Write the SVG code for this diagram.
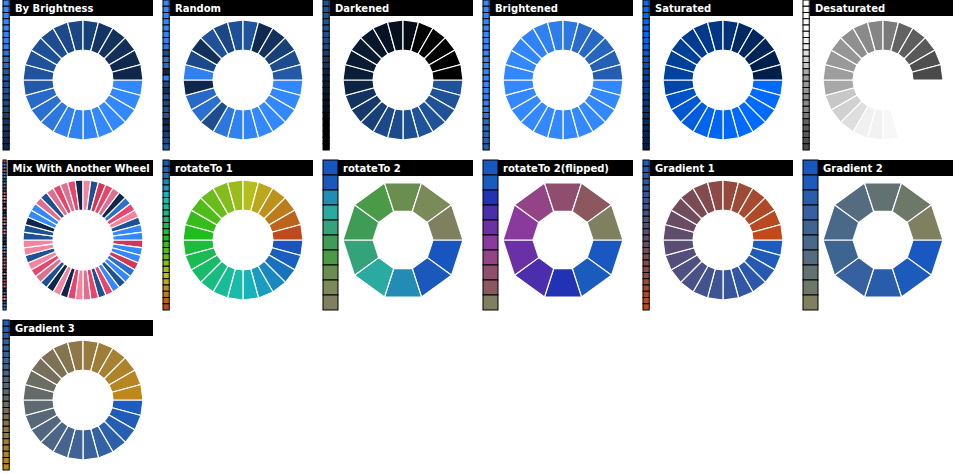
<svg xmlns="http://www.w3.org/2000/svg" width="966" height="474" viewBox="0 0 966 474">
<style>
.st rect{stroke:#000;stroke-width:1}
.wh use{stroke:#fff;stroke-width:1.2;stroke-linejoin:miter}
.tb{fill:#000}
.tt{font-family:"DejaVu Sans",Verdana,sans-serif;font-weight:bold;font-size:10px;fill:#fff}
</style>
<defs>
<path id="a" d="M60,0L57.96,15.53L28.98,7.76L30,0Z"/>
<path id="b" d="M60,0L48.54,35.27L24.27,17.63L30,0Z"/>
<path id="c" d="M60,0L59.49,7.83L29.74,3.92L30,0Z"/>
</defs>
<rect width="966" height="474" fill="#fff"/>

<g id="p-by-brightness" transform="translate(0,0)">
<g class="st">
<rect x="3" y="0" width="6.25" height="6.25" fill="#3388FF"/><rect x="3" y="6.25" width="6.25" height="6.25" fill="#3388FF"/><rect x="3" y="12.5" width="6.25" height="6.25" fill="#3388FF"/><rect x="3" y="18.75" width="6.25" height="6.25" fill="#3388FF"/><rect x="3" y="25" width="6.25" height="6.25" fill="#3388FF"/><rect x="3" y="31.25" width="6.25" height="6.25" fill="#3184F7"/><rect x="3" y="37.5" width="6.25" height="6.25" fill="#3081F2"/><rect x="3" y="43.75" width="6.25" height="6.25" fill="#3080F0"/><rect x="3" y="50" width="6.25" height="6.25" fill="#2C76DE"/><rect x="3" y="56.25" width="6.25" height="6.25" fill="#2A70D1"/><rect x="3" y="62.5" width="6.25" height="6.25" fill="#286AC7"/><rect x="3" y="68.75" width="6.25" height="6.25" fill="#225AA8"/><rect x="3" y="75" width="6.25" height="6.25" fill="#20549E"/><rect x="3" y="81.25" width="6.25" height="6.25" fill="#1F5299"/><rect x="3" y="87.5" width="6.25" height="6.25" fill="#1E5096"/><rect x="3" y="93.75" width="6.25" height="6.25" fill="#1D4C8F"/><rect x="3" y="100" width="6.25" height="6.25" fill="#1C498A"/><rect x="3" y="106.25" width="6.25" height="6.25" fill="#1B4785"/><rect x="3" y="112.5" width="6.25" height="6.25" fill="#18417A"/><rect x="3" y="118.75" width="6.25" height="6.25" fill="#143563"/><rect x="3" y="125" width="6.25" height="6.25" fill="#13325E"/><rect x="3" y="131.25" width="6.25" height="6.25" fill="#123059"/><rect x="3" y="137.5" width="6.25" height="6.25" fill="#102A4F"/><rect x="3" y="143.75" width="6.25" height="6.25" fill="#0F274A"/>
</g>
<rect class="tb" x="10" y="0" width="143" height="16"/>
<text class="tt" x="15" y="12">By Brightness</text>
<g class="wh" transform="translate(83,80)">
<use href="#a" fill="#3388FF"/><use href="#a" transform="rotate(15)" fill="#3388FF"/><use href="#a" transform="rotate(30)" fill="#3388FF"/><use href="#a" transform="rotate(45)" fill="#3388FF"/><use href="#a" transform="rotate(60)" fill="#3388FF"/><use href="#a" transform="rotate(75)" fill="#3184F7"/><use href="#a" transform="rotate(90)" fill="#3081F2"/><use href="#a" transform="rotate(105)" fill="#3080F0"/><use href="#a" transform="rotate(120)" fill="#2C76DE"/><use href="#a" transform="rotate(135)" fill="#2A70D1"/><use href="#a" transform="rotate(150)" fill="#286AC7"/><use href="#a" transform="rotate(165)" fill="#225AA8"/><use href="#a" transform="rotate(180)" fill="#20549E"/><use href="#a" transform="rotate(195)" fill="#1F5299"/><use href="#a" transform="rotate(210)" fill="#1E5096"/><use href="#a" transform="rotate(225)" fill="#1D4C8F"/><use href="#a" transform="rotate(240)" fill="#1C498A"/><use href="#a" transform="rotate(255)" fill="#1B4785"/><use href="#a" transform="rotate(270)" fill="#18417A"/><use href="#a" transform="rotate(285)" fill="#143563"/><use href="#a" transform="rotate(300)" fill="#13325E"/><use href="#a" transform="rotate(315)" fill="#123059"/><use href="#a" transform="rotate(330)" fill="#102A4F"/><use href="#a" transform="rotate(345)" fill="#0F274A"/>
</g>
</g>

<g id="p-random" transform="translate(160,0)">
<g class="st">
<rect x="3" y="0" width="6.25" height="6.25" fill="#3388FF"/><rect x="3" y="6.25" width="6.25" height="6.25" fill="#3388FF"/><rect x="3" y="12.5" width="6.25" height="6.25" fill="#3388FF"/><rect x="3" y="18.75" width="6.25" height="6.25" fill="#3388FF"/><rect x="3" y="25" width="6.25" height="6.25" fill="#3388FF"/><rect x="3" y="31.25" width="6.25" height="6.25" fill="#3184F7"/><rect x="3" y="37.5" width="6.25" height="6.25" fill="#3081F2"/><rect x="3" y="43.75" width="6.25" height="6.25" fill="#2C76DE"/><rect x="3" y="50" width="6.25" height="6.25" fill="#1D4C8F"/><rect x="3" y="56.25" width="6.25" height="6.25" fill="#2A70D1"/><rect x="3" y="62.5" width="6.25" height="6.25" fill="#286AC7"/><rect x="3" y="68.75" width="6.25" height="6.25" fill="#0F274A"/><rect x="3" y="75" width="6.25" height="6.25" fill="#3080F0"/><rect x="3" y="81.25" width="6.25" height="6.25" fill="#1C498A"/><rect x="3" y="87.5" width="6.25" height="6.25" fill="#123059"/><rect x="3" y="93.75" width="6.25" height="6.25" fill="#1F5299"/><rect x="3" y="100" width="6.25" height="6.25" fill="#1B4785"/><rect x="3" y="106.25" width="6.25" height="6.25" fill="#1E5096"/><rect x="3" y="112.5" width="6.25" height="6.25" fill="#20549E"/><rect x="3" y="118.75" width="6.25" height="6.25" fill="#102A4F"/><rect x="3" y="125" width="6.25" height="6.25" fill="#13325E"/><rect x="3" y="131.25" width="6.25" height="6.25" fill="#18417A"/><rect x="3" y="137.5" width="6.25" height="6.25" fill="#1D4C8F"/><rect x="3" y="143.75" width="6.25" height="6.25" fill="#225AA8"/>
</g>
<rect class="tb" x="10" y="0" width="143" height="16"/>
<text class="tt" x="15" y="12">Random</text>
<g class="wh" transform="translate(83,80)">
<use href="#a" fill="#3388FF"/><use href="#a" transform="rotate(15)" fill="#3388FF"/><use href="#a" transform="rotate(30)" fill="#3388FF"/><use href="#a" transform="rotate(45)" fill="#3388FF"/><use href="#a" transform="rotate(60)" fill="#3388FF"/><use href="#a" transform="rotate(75)" fill="#3184F7"/><use href="#a" transform="rotate(90)" fill="#3081F2"/><use href="#a" transform="rotate(105)" fill="#2C76DE"/><use href="#a" transform="rotate(120)" fill="#1D4C8F"/><use href="#a" transform="rotate(135)" fill="#2A70D1"/><use href="#a" transform="rotate(150)" fill="#286AC7"/><use href="#a" transform="rotate(165)" fill="#0F274A"/><use href="#a" transform="rotate(180)" fill="#3080F0"/><use href="#a" transform="rotate(195)" fill="#1C498A"/><use href="#a" transform="rotate(210)" fill="#123059"/><use href="#a" transform="rotate(225)" fill="#1F5299"/><use href="#a" transform="rotate(240)" fill="#1B4785"/><use href="#a" transform="rotate(255)" fill="#1E5096"/><use href="#a" transform="rotate(270)" fill="#20549E"/><use href="#a" transform="rotate(285)" fill="#102A4F"/><use href="#a" transform="rotate(300)" fill="#13325E"/><use href="#a" transform="rotate(315)" fill="#18417A"/><use href="#a" transform="rotate(330)" fill="#1D4C8F"/><use href="#a" transform="rotate(345)" fill="#225AA8"/>
</g>
</g>

<g id="p-darkened" transform="translate(320,0)">
<g class="st">
<rect x="3" y="0" width="6.25" height="6.25" fill="#1F5299"/><rect x="3" y="6.25" width="6.25" height="6.25" fill="#1F5299"/><rect x="3" y="12.5" width="6.25" height="6.25" fill="#1F5299"/><rect x="3" y="18.75" width="6.25" height="6.25" fill="#1F5299"/><rect x="3" y="25" width="6.25" height="6.25" fill="#1F5299"/><rect x="3" y="31.25" width="6.25" height="6.25" fill="#1D4E91"/><rect x="3" y="37.5" width="6.25" height="6.25" fill="#1C4B8C"/><rect x="3" y="43.75" width="6.25" height="6.25" fill="#1C498A"/><rect x="3" y="50" width="6.25" height="6.25" fill="#184078"/><rect x="3" y="56.25" width="6.25" height="6.25" fill="#15396B"/><rect x="3" y="62.5" width="6.25" height="6.25" fill="#133461"/><rect x="3" y="68.75" width="6.25" height="6.25" fill="#0D2342"/><rect x="3" y="75" width="6.25" height="6.25" fill="#0B1E38"/><rect x="3" y="81.25" width="6.25" height="6.25" fill="#0A1B33"/><rect x="3" y="87.5" width="6.25" height="6.25" fill="#0A1A30"/><rect x="3" y="93.75" width="6.25" height="6.25" fill="#081629"/><rect x="3" y="100" width="6.25" height="6.25" fill="#071324"/><rect x="3" y="106.25" width="6.25" height="6.25" fill="#06101F"/><rect x="3" y="112.5" width="6.25" height="6.25" fill="#040B14"/><rect x="3" y="118.75" width="6.25" height="6.25" fill="#000"/><rect x="3" y="125" width="6.25" height="6.25" fill="#000"/><rect x="3" y="131.25" width="6.25" height="6.25" fill="#000"/><rect x="3" y="137.5" width="6.25" height="6.25" fill="#000"/><rect x="3" y="143.75" width="6.25" height="6.25" fill="#000"/>
</g>
<rect class="tb" x="10" y="0" width="143" height="16"/>
<text class="tt" x="15" y="12">Darkened</text>
<g class="wh" transform="translate(83,80)">
<use href="#a" fill="#1F5299"/><use href="#a" transform="rotate(15)" fill="#1F5299"/><use href="#a" transform="rotate(30)" fill="#1F5299"/><use href="#a" transform="rotate(45)" fill="#1F5299"/><use href="#a" transform="rotate(60)" fill="#1F5299"/><use href="#a" transform="rotate(75)" fill="#1D4E91"/><use href="#a" transform="rotate(90)" fill="#1C4B8C"/><use href="#a" transform="rotate(105)" fill="#1C498A"/><use href="#a" transform="rotate(120)" fill="#184078"/><use href="#a" transform="rotate(135)" fill="#15396B"/><use href="#a" transform="rotate(150)" fill="#133461"/><use href="#a" transform="rotate(165)" fill="#0D2342"/><use href="#a" transform="rotate(180)" fill="#0B1E38"/><use href="#a" transform="rotate(195)" fill="#0A1B33"/><use href="#a" transform="rotate(210)" fill="#0A1A30"/><use href="#a" transform="rotate(225)" fill="#081629"/><use href="#a" transform="rotate(240)" fill="#071324"/><use href="#a" transform="rotate(255)" fill="#06101F"/><use href="#a" transform="rotate(270)" fill="#040B14"/><use href="#a" transform="rotate(285)" fill="#000"/><use href="#a" transform="rotate(300)" fill="#000"/><use href="#a" transform="rotate(315)" fill="#000"/><use href="#a" transform="rotate(330)" fill="#000"/><use href="#a" transform="rotate(345)" fill="#000"/>
</g>
</g>

<g id="p-brightened" transform="translate(480,0)">
<g class="st">
<rect x="3" y="0" width="6.25" height="6.25" fill="#3388FF"/><rect x="3" y="6.25" width="6.25" height="6.25" fill="#3388FF"/><rect x="3" y="12.5" width="6.25" height="6.25" fill="#3388FF"/><rect x="3" y="18.75" width="6.25" height="6.25" fill="#3388FF"/><rect x="3" y="25" width="6.25" height="6.25" fill="#3388FF"/><rect x="3" y="31.25" width="6.25" height="6.25" fill="#3388FF"/><rect x="3" y="37.5" width="6.25" height="6.25" fill="#3388FF"/><rect x="3" y="43.75" width="6.25" height="6.25" fill="#3388FF"/><rect x="3" y="50" width="6.25" height="6.25" fill="#3388FF"/><rect x="3" y="56.25" width="6.25" height="6.25" fill="#3388FF"/><rect x="3" y="62.5" width="6.25" height="6.25" fill="#3388FF"/><rect x="3" y="68.75" width="6.25" height="6.25" fill="#3388FF"/><rect x="3" y="75" width="6.25" height="6.25" fill="#3388FF"/><rect x="3" y="81.25" width="6.25" height="6.25" fill="#3388FF"/><rect x="3" y="87.5" width="6.25" height="6.25" fill="#3286FC"/><rect x="3" y="93.75" width="6.25" height="6.25" fill="#3183F5"/><rect x="3" y="100" width="6.25" height="6.25" fill="#3080F0"/><rect x="3" y="106.25" width="6.25" height="6.25" fill="#2F7DEB"/><rect x="3" y="112.5" width="6.25" height="6.25" fill="#2D78E0"/><rect x="3" y="118.75" width="6.25" height="6.25" fill="#286BC9"/><rect x="3" y="125" width="6.25" height="6.25" fill="#2769C4"/><rect x="3" y="131.25" width="6.25" height="6.25" fill="#2666BF"/><rect x="3" y="137.5" width="6.25" height="6.25" fill="#2461B5"/><rect x="3" y="143.75" width="6.25" height="6.25" fill="#235EB0"/>
</g>
<rect class="tb" x="10" y="0" width="143" height="16"/>
<text class="tt" x="15" y="12">Brightened</text>
<g class="wh" transform="translate(83,80)">
<use href="#a" fill="#3388FF"/><use href="#a" transform="rotate(15)" fill="#3388FF"/><use href="#a" transform="rotate(30)" fill="#3388FF"/><use href="#a" transform="rotate(45)" fill="#3388FF"/><use href="#a" transform="rotate(60)" fill="#3388FF"/><use href="#a" transform="rotate(75)" fill="#3388FF"/><use href="#a" transform="rotate(90)" fill="#3388FF"/><use href="#a" transform="rotate(105)" fill="#3388FF"/><use href="#a" transform="rotate(120)" fill="#3388FF"/><use href="#a" transform="rotate(135)" fill="#3388FF"/><use href="#a" transform="rotate(150)" fill="#3388FF"/><use href="#a" transform="rotate(165)" fill="#3388FF"/><use href="#a" transform="rotate(180)" fill="#3388FF"/><use href="#a" transform="rotate(195)" fill="#3388FF"/><use href="#a" transform="rotate(210)" fill="#3286FC"/><use href="#a" transform="rotate(225)" fill="#3183F5"/><use href="#a" transform="rotate(240)" fill="#3080F0"/><use href="#a" transform="rotate(255)" fill="#2F7DEB"/><use href="#a" transform="rotate(270)" fill="#2D78E0"/><use href="#a" transform="rotate(285)" fill="#286BC9"/><use href="#a" transform="rotate(300)" fill="#2769C4"/><use href="#a" transform="rotate(315)" fill="#2666BF"/><use href="#a" transform="rotate(330)" fill="#2461B5"/><use href="#a" transform="rotate(345)" fill="#235EB0"/>
</g>
</g>

<g id="p-saturated" transform="translate(640,0)">
<g class="st">
<rect x="3" y="0" width="6.25" height="6.25" fill="#006AFF"/><rect x="3" y="6.25" width="6.25" height="6.25" fill="#006AFF"/><rect x="3" y="12.5" width="6.25" height="6.25" fill="#006AFF"/><rect x="3" y="18.75" width="6.25" height="6.25" fill="#006AFF"/><rect x="3" y="25" width="6.25" height="6.25" fill="#006AFF"/><rect x="3" y="31.25" width="6.25" height="6.25" fill="#0067F7"/><rect x="3" y="37.5" width="6.25" height="6.25" fill="#0065F2"/><rect x="3" y="43.75" width="6.25" height="6.25" fill="#0064F0"/><rect x="3" y="50" width="6.25" height="6.25" fill="#005CDE"/><rect x="3" y="56.25" width="6.25" height="6.25" fill="#0057D1"/><rect x="3" y="62.5" width="6.25" height="6.25" fill="#0053C7"/><rect x="3" y="68.75" width="6.25" height="6.25" fill="#0046A8"/><rect x="3" y="75" width="6.25" height="6.25" fill="#00429E"/><rect x="3" y="81.25" width="6.25" height="6.25" fill="#004099"/><rect x="3" y="87.5" width="6.25" height="6.25" fill="#003F96"/><rect x="3" y="93.75" width="6.25" height="6.25" fill="#003B8F"/><rect x="3" y="100" width="6.25" height="6.25" fill="#00398A"/><rect x="3" y="106.25" width="6.25" height="6.25" fill="#003785"/><rect x="3" y="112.5" width="6.25" height="6.25" fill="#00337A"/><rect x="3" y="118.75" width="6.25" height="6.25" fill="#002963"/><rect x="3" y="125" width="6.25" height="6.25" fill="#00275E"/><rect x="3" y="131.25" width="6.25" height="6.25" fill="#002559"/><rect x="3" y="137.5" width="6.25" height="6.25" fill="#00214F"/><rect x="3" y="143.75" width="6.25" height="6.25" fill="#001F4A"/>
</g>
<rect class="tb" x="10" y="0" width="143" height="16"/>
<text class="tt" x="15" y="12">Saturated</text>
<g class="wh" transform="translate(83,80)">
<use href="#a" fill="#006AFF"/><use href="#a" transform="rotate(15)" fill="#006AFF"/><use href="#a" transform="rotate(30)" fill="#006AFF"/><use href="#a" transform="rotate(45)" fill="#006AFF"/><use href="#a" transform="rotate(60)" fill="#006AFF"/><use href="#a" transform="rotate(75)" fill="#0067F7"/><use href="#a" transform="rotate(90)" fill="#0065F2"/><use href="#a" transform="rotate(105)" fill="#0064F0"/><use href="#a" transform="rotate(120)" fill="#005CDE"/><use href="#a" transform="rotate(135)" fill="#0057D1"/><use href="#a" transform="rotate(150)" fill="#0053C7"/><use href="#a" transform="rotate(165)" fill="#0046A8"/><use href="#a" transform="rotate(180)" fill="#00429E"/><use href="#a" transform="rotate(195)" fill="#004099"/><use href="#a" transform="rotate(210)" fill="#003F96"/><use href="#a" transform="rotate(225)" fill="#003B8F"/><use href="#a" transform="rotate(240)" fill="#00398A"/><use href="#a" transform="rotate(255)" fill="#003785"/><use href="#a" transform="rotate(270)" fill="#00337A"/><use href="#a" transform="rotate(285)" fill="#002963"/><use href="#a" transform="rotate(300)" fill="#00275E"/><use href="#a" transform="rotate(315)" fill="#002559"/><use href="#a" transform="rotate(330)" fill="#00214F"/><use href="#a" transform="rotate(345)" fill="#001F4A"/>
</g>
</g>

<g id="p-desaturated" transform="translate(800,0)">
<g class="st">
<rect x="3" y="0" width="6.25" height="6.25" fill="#FFF"/><rect x="3" y="6.25" width="6.25" height="6.25" fill="#FFF"/><rect x="3" y="12.5" width="6.25" height="6.25" fill="#FFF"/><rect x="3" y="18.75" width="6.25" height="6.25" fill="#FFF"/><rect x="3" y="25" width="6.25" height="6.25" fill="#FFF"/><rect x="3" y="31.25" width="6.25" height="6.25" fill="#F7F7F7"/><rect x="3" y="37.5" width="6.25" height="6.25" fill="#F2F2F2"/><rect x="3" y="43.75" width="6.25" height="6.25" fill="#F0F0F0"/><rect x="3" y="50" width="6.25" height="6.25" fill="#DEDEDE"/><rect x="3" y="56.25" width="6.25" height="6.25" fill="#D1D1D1"/><rect x="3" y="62.5" width="6.25" height="6.25" fill="#C7C7C7"/><rect x="3" y="68.75" width="6.25" height="6.25" fill="#A8A8A8"/><rect x="3" y="75" width="6.25" height="6.25" fill="#9E9E9E"/><rect x="3" y="81.25" width="6.25" height="6.25" fill="#999"/><rect x="3" y="87.5" width="6.25" height="6.25" fill="#969696"/><rect x="3" y="93.75" width="6.25" height="6.25" fill="#8F8F8F"/><rect x="3" y="100" width="6.25" height="6.25" fill="#8A8A8A"/><rect x="3" y="106.25" width="6.25" height="6.25" fill="#858585"/><rect x="3" y="112.5" width="6.25" height="6.25" fill="#7A7A7A"/><rect x="3" y="118.75" width="6.25" height="6.25" fill="#636363"/><rect x="3" y="125" width="6.25" height="6.25" fill="#5E5E5E"/><rect x="3" y="131.25" width="6.25" height="6.25" fill="#595959"/><rect x="3" y="137.5" width="6.25" height="6.25" fill="#4F4F4F"/><rect x="3" y="143.75" width="6.25" height="6.25" fill="#4A4A4A"/>
</g>
<rect class="tb" x="10" y="0" width="143" height="16"/>
<text class="tt" x="15" y="12">Desaturated</text>
<g class="wh" transform="translate(83,80)">
<use href="#a" fill="#FFF"/><use href="#a" transform="rotate(15)" fill="#FFF"/><use href="#a" transform="rotate(30)" fill="#FFF"/><use href="#a" transform="rotate(45)" fill="#FFF"/><use href="#a" transform="rotate(60)" fill="#FFF"/><use href="#a" transform="rotate(75)" fill="#F7F7F7"/><use href="#a" transform="rotate(90)" fill="#F2F2F2"/><use href="#a" transform="rotate(105)" fill="#F0F0F0"/><use href="#a" transform="rotate(120)" fill="#DEDEDE"/><use href="#a" transform="rotate(135)" fill="#D1D1D1"/><use href="#a" transform="rotate(150)" fill="#C7C7C7"/><use href="#a" transform="rotate(165)" fill="#A8A8A8"/><use href="#a" transform="rotate(180)" fill="#9E9E9E"/><use href="#a" transform="rotate(195)" fill="#999"/><use href="#a" transform="rotate(210)" fill="#969696"/><use href="#a" transform="rotate(225)" fill="#8F8F8F"/><use href="#a" transform="rotate(240)" fill="#8A8A8A"/><use href="#a" transform="rotate(255)" fill="#858585"/><use href="#a" transform="rotate(270)" fill="#7A7A7A"/><use href="#a" transform="rotate(285)" fill="#636363"/><use href="#a" transform="rotate(300)" fill="#5E5E5E"/><use href="#a" transform="rotate(315)" fill="#595959"/><use href="#a" transform="rotate(330)" fill="#4F4F4F"/><use href="#a" transform="rotate(345)" fill="#4A4A4A"/>
</g>
</g>

<g id="p-mix" transform="translate(0,160)">
<g class="st">
<rect x="3" y="0" width="3.125" height="3.125" fill="#D23658"/><rect x="3" y="3.125" width="3.125" height="3.125" fill="#3388FF"/><rect x="3" y="6.25" width="3.125" height="3.125" fill="#3388FF"/><rect x="3" y="9.375" width="3.125" height="3.125" fill="#D23658"/><rect x="3" y="12.5" width="3.125" height="3.125" fill="#2A70D1"/><rect x="3" y="15.625" width="3.125" height="3.125" fill="#3388FF"/><rect x="3" y="18.75" width="3.125" height="3.125" fill="#1E5096"/><rect x="3" y="21.875" width="3.125" height="3.125" fill="#3388FF"/><rect x="3" y="25" width="3.125" height="3.125" fill="#E8446C"/><rect x="3" y="28.125" width="3.125" height="3.125" fill="#1E5096"/><rect x="3" y="31.25" width="3.125" height="3.125" fill="#E8446C"/><rect x="3" y="34.375" width="3.125" height="3.125" fill="#DC7090"/><rect x="3" y="37.5" width="3.125" height="3.125" fill="#F2849E"/><rect x="3" y="40.625" width="3.125" height="3.125" fill="#E8446C"/><rect x="3" y="43.75" width="3.125" height="3.125" fill="#0F274A"/><rect x="3" y="46.875" width="3.125" height="3.125" fill="#F2849E"/><rect x="3" y="50" width="3.125" height="3.125" fill="#0F274A"/><rect x="3" y="53.125" width="3.125" height="3.125" fill="#1E5096"/><rect x="3" y="56.25" width="3.125" height="3.125" fill="#DC7090"/><rect x="3" y="59.375" width="3.125" height="3.125" fill="#E8446C"/><rect x="3" y="62.5" width="3.125" height="3.125" fill="#F2849E"/><rect x="3" y="65.625" width="3.125" height="3.125" fill="#1E5096"/><rect x="3" y="68.75" width="3.125" height="3.125" fill="#F2849E"/><rect x="3" y="71.875" width="3.125" height="3.125" fill="#F2849E"/><rect x="3" y="75" width="3.125" height="3.125" fill="#1E5096"/><rect x="3" y="78.125" width="3.125" height="3.125" fill="#1E5096"/><rect x="3" y="81.25" width="3.125" height="3.125" fill="#0F274A"/><rect x="3" y="84.375" width="3.125" height="3.125" fill="#3388FF"/><rect x="3" y="87.5" width="3.125" height="3.125" fill="#3388FF"/><rect x="3" y="90.625" width="3.125" height="3.125" fill="#DC7090"/><rect x="3" y="93.75" width="3.125" height="3.125" fill="#1E5096"/><rect x="3" y="96.875" width="3.125" height="3.125" fill="#DC7090"/><rect x="3" y="100" width="3.125" height="3.125" fill="#E8446C"/><rect x="3" y="103.125" width="3.125" height="3.125" fill="#DC7090"/><rect x="3" y="106.25" width="3.125" height="3.125" fill="#E8446C"/><rect x="3" y="109.375" width="3.125" height="3.125" fill="#0F274A"/><rect x="3" y="112.5" width="3.125" height="3.125" fill="#F2849E"/><rect x="3" y="115.625" width="3.125" height="3.125" fill="#1E5096"/><rect x="3" y="118.75" width="3.125" height="3.125" fill="#D23658"/><rect x="3" y="121.875" width="3.125" height="3.125" fill="#E8446C"/><rect x="3" y="125" width="3.125" height="3.125" fill="#DC7090"/><rect x="3" y="128.125" width="3.125" height="3.125" fill="#0F274A"/><rect x="3" y="131.25" width="3.125" height="3.125" fill="#2A70D1"/><rect x="3" y="134.375" width="3.125" height="3.125" fill="#E8446C"/><rect x="3" y="137.5" width="3.125" height="3.125" fill="#F2849E"/><rect x="3" y="140.625" width="3.125" height="3.125" fill="#1E5096"/><rect x="3" y="143.75" width="3.125" height="3.125" fill="#3388FF"/><rect x="3" y="146.875" width="3.125" height="3.125" fill="#3388FF"/>
</g>
<rect class="tb" x="7.5" y="0" width="145.5" height="16"/>
<text class="tt" x="12.5" y="12">Mix With Another Wheel</text>
<g class="wh" transform="translate(83,80)">
<use href="#c" fill="#D23658"/><use href="#c" transform="rotate(7.5)" fill="#3388FF"/><use href="#c" transform="rotate(15)" fill="#3388FF"/><use href="#c" transform="rotate(22.5)" fill="#D23658"/><use href="#c" transform="rotate(30)" fill="#2A70D1"/><use href="#c" transform="rotate(37.5)" fill="#3388FF"/><use href="#c" transform="rotate(45)" fill="#1E5096"/><use href="#c" transform="rotate(52.5)" fill="#3388FF"/><use href="#c" transform="rotate(60)" fill="#E8446C"/><use href="#c" transform="rotate(67.5)" fill="#1E5096"/><use href="#c" transform="rotate(75)" fill="#E8446C"/><use href="#c" transform="rotate(82.5)" fill="#DC7090"/><use href="#c" transform="rotate(90)" fill="#F2849E"/><use href="#c" transform="rotate(97.5)" fill="#E8446C"/><use href="#c" transform="rotate(105)" fill="#0F274A"/><use href="#c" transform="rotate(112.5)" fill="#F2849E"/><use href="#c" transform="rotate(120)" fill="#0F274A"/><use href="#c" transform="rotate(127.5)" fill="#1E5096"/><use href="#c" transform="rotate(135)" fill="#DC7090"/><use href="#c" transform="rotate(142.5)" fill="#E8446C"/><use href="#c" transform="rotate(150)" fill="#F2849E"/><use href="#c" transform="rotate(157.5)" fill="#1E5096"/><use href="#c" transform="rotate(165)" fill="#F2849E"/><use href="#c" transform="rotate(172.5)" fill="#F2849E"/><use href="#c" transform="rotate(180)" fill="#1E5096"/><use href="#c" transform="rotate(187.5)" fill="#1E5096"/><use href="#c" transform="rotate(195)" fill="#0F274A"/><use href="#c" transform="rotate(202.5)" fill="#3388FF"/><use href="#c" transform="rotate(210)" fill="#3388FF"/><use href="#c" transform="rotate(217.5)" fill="#DC7090"/><use href="#c" transform="rotate(225)" fill="#1E5096"/><use href="#c" transform="rotate(232.5)" fill="#DC7090"/><use href="#c" transform="rotate(240)" fill="#E8446C"/><use href="#c" transform="rotate(247.5)" fill="#DC7090"/><use href="#c" transform="rotate(255)" fill="#E8446C"/><use href="#c" transform="rotate(262.5)" fill="#0F274A"/><use href="#c" transform="rotate(270)" fill="#F2849E"/><use href="#c" transform="rotate(277.5)" fill="#1E5096"/><use href="#c" transform="rotate(285)" fill="#D23658"/><use href="#c" transform="rotate(292.5)" fill="#E8446C"/><use href="#c" transform="rotate(300)" fill="#DC7090"/><use href="#c" transform="rotate(307.5)" fill="#0F274A"/><use href="#c" transform="rotate(315)" fill="#2A70D1"/><use href="#c" transform="rotate(322.5)" fill="#E8446C"/><use href="#c" transform="rotate(330)" fill="#F2849E"/><use href="#c" transform="rotate(337.5)" fill="#1E5096"/><use href="#c" transform="rotate(345)" fill="#3388FF"/><use href="#c" transform="rotate(352.5)" fill="#3388FF"/>
</g>
</g>

<g id="p-rotate1" transform="translate(160,160)">
<g class="st">
<rect x="3" y="0" width="6.25" height="6.25" fill="#1A55BE"/><rect x="3" y="6.25" width="6.25" height="6.25" fill="#1A5EC0"/><rect x="3" y="12.5" width="6.25" height="6.25" fill="#1A72BE"/><rect x="3" y="18.75" width="6.25" height="6.25" fill="#1A88C0"/><rect x="3" y="25" width="6.25" height="6.25" fill="#1A9CC0"/><rect x="3" y="31.25" width="6.25" height="6.25" fill="#18B2BC"/><rect x="3" y="37.5" width="6.25" height="6.25" fill="#18BCA8"/><rect x="3" y="43.75" width="6.25" height="6.25" fill="#18BC98"/><rect x="3" y="50" width="6.25" height="6.25" fill="#18BC80"/><rect x="3" y="56.25" width="6.25" height="6.25" fill="#18BC68"/><rect x="3" y="62.5" width="6.25" height="6.25" fill="#18BC52"/><rect x="3" y="68.75" width="6.25" height="6.25" fill="#1CBC3C"/><rect x="3" y="75" width="6.25" height="6.25" fill="#20BC20"/><rect x="3" y="81.25" width="6.25" height="6.25" fill="#38BC1C"/><rect x="3" y="87.5" width="6.25" height="6.25" fill="#50BC1C"/><rect x="3" y="93.75" width="6.25" height="6.25" fill="#6ABC1C"/><rect x="3" y="100" width="6.25" height="6.25" fill="#84BC1C"/><rect x="3" y="106.25" width="6.25" height="6.25" fill="#9CBC1C"/><rect x="3" y="112.5" width="6.25" height="6.25" fill="#B4BE1C"/><rect x="3" y="118.75" width="6.25" height="6.25" fill="#BCA61C"/><rect x="3" y="125" width="6.25" height="6.25" fill="#BC921C"/><rect x="3" y="131.25" width="6.25" height="6.25" fill="#BC7C1C"/><rect x="3" y="137.5" width="6.25" height="6.25" fill="#BC641C"/><rect x="3" y="143.75" width="6.25" height="6.25" fill="#BC4C1C"/>
</g>
<rect class="tb" x="10" y="0" width="143" height="16"/>
<text class="tt" x="15" y="12">rotateTo 1</text>
<g class="wh" transform="translate(83,80)">
<use href="#a" fill="#1A55BE"/><use href="#a" transform="rotate(15)" fill="#1A5EC0"/><use href="#a" transform="rotate(30)" fill="#1A72BE"/><use href="#a" transform="rotate(45)" fill="#1A88C0"/><use href="#a" transform="rotate(60)" fill="#1A9CC0"/><use href="#a" transform="rotate(75)" fill="#18B2BC"/><use href="#a" transform="rotate(90)" fill="#18BCA8"/><use href="#a" transform="rotate(105)" fill="#18BC98"/><use href="#a" transform="rotate(120)" fill="#18BC80"/><use href="#a" transform="rotate(135)" fill="#18BC68"/><use href="#a" transform="rotate(150)" fill="#18BC52"/><use href="#a" transform="rotate(165)" fill="#1CBC3C"/><use href="#a" transform="rotate(180)" fill="#20BC20"/><use href="#a" transform="rotate(195)" fill="#38BC1C"/><use href="#a" transform="rotate(210)" fill="#50BC1C"/><use href="#a" transform="rotate(225)" fill="#6ABC1C"/><use href="#a" transform="rotate(240)" fill="#84BC1C"/><use href="#a" transform="rotate(255)" fill="#9CBC1C"/><use href="#a" transform="rotate(270)" fill="#B4BE1C"/><use href="#a" transform="rotate(285)" fill="#BCA61C"/><use href="#a" transform="rotate(300)" fill="#BC921C"/><use href="#a" transform="rotate(315)" fill="#BC7C1C"/><use href="#a" transform="rotate(330)" fill="#BC641C"/><use href="#a" transform="rotate(345)" fill="#BC4C1C"/>
</g>
</g>

<g id="p-rotate2" transform="translate(320,160)">
<g class="st">
<rect x="3" y="0" width="15" height="15" fill="#1756BE"/><rect x="3" y="15" width="15" height="15" fill="#1A58BC"/><rect x="3" y="30" width="15" height="15" fill="#228CB4"/><rect x="3" y="45" width="15" height="15" fill="#2AAAA0"/><rect x="3" y="60" width="15" height="15" fill="#34A27A"/><rect x="3" y="75" width="15" height="15" fill="#3E9C56"/><rect x="3" y="90" width="15" height="15" fill="#4A9A48"/><rect x="3" y="105" width="15" height="15" fill="#6A8E50"/><rect x="3" y="120" width="15" height="15" fill="#7A8A58"/><rect x="3" y="135" width="15" height="15" fill="#7E8060"/>
</g>
<rect class="tb" x="18" y="0" width="135" height="16"/>
<text class="tt" x="23" y="12">rotateTo 2</text>
<g class="wh" transform="translate(83,80)">
<use href="#b" fill="#1756BE"/><use href="#b" transform="rotate(36)" fill="#1A58BC"/><use href="#b" transform="rotate(72)" fill="#228CB4"/><use href="#b" transform="rotate(108)" fill="#2AAAA0"/><use href="#b" transform="rotate(144)" fill="#34A27A"/><use href="#b" transform="rotate(180)" fill="#3E9C56"/><use href="#b" transform="rotate(216)" fill="#4A9A48"/><use href="#b" transform="rotate(252)" fill="#6A8E50"/><use href="#b" transform="rotate(288)" fill="#7A8A58"/><use href="#b" transform="rotate(324)" fill="#7E8060"/>
</g>
</g>

<g id="p-rotate2-flipped" transform="translate(480,160)">
<g class="st">
<rect x="3" y="0" width="15" height="15" fill="#1858C0"/><rect x="3" y="15" width="15" height="15" fill="#1A5CBE"/><rect x="3" y="30" width="15" height="15" fill="#2232B4"/><rect x="3" y="45" width="15" height="15" fill="#4A2EAC"/><rect x="3" y="60" width="15" height="15" fill="#6A30A6"/><rect x="3" y="75" width="15" height="15" fill="#8A3A9C"/><rect x="3" y="90" width="15" height="15" fill="#924486"/><rect x="3" y="105" width="15" height="15" fill="#904E6E"/><rect x="3" y="120" width="15" height="15" fill="#8C5860"/><rect x="3" y="135" width="15" height="15" fill="#7E8060"/>
</g>
<rect class="tb" x="18" y="0" width="135" height="16"/>
<text class="tt" x="23" y="12">rotateTo 2(flipped)</text>
<g class="wh" transform="translate(83,80)">
<use href="#b" fill="#1858C0"/><use href="#b" transform="rotate(36)" fill="#1A5CBE"/><use href="#b" transform="rotate(72)" fill="#2232B4"/><use href="#b" transform="rotate(108)" fill="#4A2EAC"/><use href="#b" transform="rotate(144)" fill="#6A30A6"/><use href="#b" transform="rotate(180)" fill="#8A3A9C"/><use href="#b" transform="rotate(216)" fill="#924486"/><use href="#b" transform="rotate(252)" fill="#904E6E"/><use href="#b" transform="rotate(288)" fill="#8C5860"/><use href="#b" transform="rotate(324)" fill="#7E8060"/>
</g>
</g>

<g id="p-gradient1" transform="translate(640,160)">
<g class="st">
<rect x="3" y="0" width="6.25" height="6.25" fill="#1A5CC0"/><rect x="3" y="6.25" width="6.25" height="6.25" fill="#205BB9"/><rect x="3" y="12.5" width="6.25" height="6.25" fill="#2659B2"/><rect x="3" y="18.75" width="6.25" height="6.25" fill="#2C58AB"/><rect x="3" y="25" width="6.25" height="6.25" fill="#3157A4"/><rect x="3" y="31.25" width="6.25" height="6.25" fill="#37559D"/><rect x="3" y="37.5" width="6.25" height="6.25" fill="#3D5496"/><rect x="3" y="43.75" width="6.25" height="6.25" fill="#43538F"/><rect x="3" y="50" width="6.25" height="6.25" fill="#495188"/><rect x="3" y="56.25" width="6.25" height="6.25" fill="#4F5081"/><rect x="3" y="62.5" width="6.25" height="6.25" fill="#544F7A"/><rect x="3" y="68.75" width="6.25" height="6.25" fill="#5A4D73"/><rect x="3" y="75" width="6.25" height="6.25" fill="#604C6C"/><rect x="3" y="81.25" width="6.25" height="6.25" fill="#694C64"/><rect x="3" y="87.5" width="6.25" height="6.25" fill="#714C5D"/><rect x="3" y="93.75" width="6.25" height="6.25" fill="#7A4B55"/><rect x="3" y="100" width="6.25" height="6.25" fill="#834B4D"/><rect x="3" y="106.25" width="6.25" height="6.25" fill="#8C4B46"/><rect x="3" y="112.5" width="6.25" height="6.25" fill="#944B3E"/><rect x="3" y="118.75" width="6.25" height="6.25" fill="#9D4B37"/><rect x="3" y="125" width="6.25" height="6.25" fill="#A64B2F"/><rect x="3" y="131.25" width="6.25" height="6.25" fill="#AF4A27"/><rect x="3" y="137.5" width="6.25" height="6.25" fill="#B74A20"/><rect x="3" y="143.75" width="6.25" height="6.25" fill="#C04A18"/>
</g>
<rect class="tb" x="10" y="0" width="143" height="16"/>
<text class="tt" x="15" y="12">Gradient 1</text>
<g class="wh" transform="translate(83,80)">
<use href="#a" fill="#1A5CC0"/><use href="#a" transform="rotate(15)" fill="#205BB9"/><use href="#a" transform="rotate(30)" fill="#2659B2"/><use href="#a" transform="rotate(45)" fill="#2C58AB"/><use href="#a" transform="rotate(60)" fill="#3157A4"/><use href="#a" transform="rotate(75)" fill="#37559D"/><use href="#a" transform="rotate(90)" fill="#3D5496"/><use href="#a" transform="rotate(105)" fill="#43538F"/><use href="#a" transform="rotate(120)" fill="#495188"/><use href="#a" transform="rotate(135)" fill="#4F5081"/><use href="#a" transform="rotate(150)" fill="#544F7A"/><use href="#a" transform="rotate(165)" fill="#5A4D73"/><use href="#a" transform="rotate(180)" fill="#604C6C"/><use href="#a" transform="rotate(195)" fill="#694C64"/><use href="#a" transform="rotate(210)" fill="#714C5D"/><use href="#a" transform="rotate(225)" fill="#7A4B55"/><use href="#a" transform="rotate(240)" fill="#834B4D"/><use href="#a" transform="rotate(255)" fill="#8C4B46"/><use href="#a" transform="rotate(270)" fill="#944B3E"/><use href="#a" transform="rotate(285)" fill="#9D4B37"/><use href="#a" transform="rotate(300)" fill="#A64B2F"/><use href="#a" transform="rotate(315)" fill="#AF4A27"/><use href="#a" transform="rotate(330)" fill="#B74A20"/><use href="#a" transform="rotate(345)" fill="#C04A18"/>
</g>
</g>

<g id="p-gradient2" transform="translate(800,160)">
<g class="st">
<rect x="3" y="0" width="15" height="15" fill="#1858C0"/><rect x="3" y="15" width="15" height="15" fill="#1C5ABC"/><rect x="3" y="30" width="15" height="15" fill="#2A5CAC"/><rect x="3" y="45" width="15" height="15" fill="#3660A0"/><rect x="3" y="60" width="15" height="15" fill="#3E6492"/><rect x="3" y="75" width="15" height="15" fill="#4A6888"/><rect x="3" y="90" width="15" height="15" fill="#556C80"/><rect x="3" y="105" width="15" height="15" fill="#627272"/><rect x="3" y="120" width="15" height="15" fill="#6E7868"/><rect x="3" y="135" width="15" height="15" fill="#7E8060"/>
</g>
<rect class="tb" x="18" y="0" width="135" height="16"/>
<text class="tt" x="23" y="12">Gradient 2</text>
<g class="wh" transform="translate(83,80)">
<use href="#b" fill="#1858C0"/><use href="#b" transform="rotate(36)" fill="#1C5ABC"/><use href="#b" transform="rotate(72)" fill="#2A5CAC"/><use href="#b" transform="rotate(108)" fill="#3660A0"/><use href="#b" transform="rotate(144)" fill="#3E6492"/><use href="#b" transform="rotate(180)" fill="#4A6888"/><use href="#b" transform="rotate(216)" fill="#556C80"/><use href="#b" transform="rotate(252)" fill="#627272"/><use href="#b" transform="rotate(288)" fill="#6E7868"/><use href="#b" transform="rotate(324)" fill="#7E8060"/>
</g>
</g>

<g id="p-gradient3" transform="translate(0,320)">
<g class="st">
<rect x="3" y="0" width="6.25" height="6.25" fill="#1A5CC0"/><rect x="3" y="6.25" width="6.25" height="6.25" fill="#205DB9"/><rect x="3" y="12.5" width="6.25" height="6.25" fill="#265EB2"/><rect x="3" y="18.75" width="6.25" height="6.25" fill="#2D60AA"/><rect x="3" y="25" width="6.25" height="6.25" fill="#3361A3"/><rect x="3" y="31.25" width="6.25" height="6.25" fill="#39629C"/><rect x="3" y="37.5" width="6.25" height="6.25" fill="#3F6395"/><rect x="3" y="43.75" width="6.25" height="6.25" fill="#45648E"/><rect x="3" y="50" width="6.25" height="6.25" fill="#4B6587"/><rect x="3" y="56.25" width="6.25" height="6.25" fill="#52677F"/><rect x="3" y="62.5" width="6.25" height="6.25" fill="#586878"/><rect x="3" y="68.75" width="6.25" height="6.25" fill="#5E6971"/><rect x="3" y="75" width="6.25" height="6.25" fill="#646A6A"/><rect x="3" y="81.25" width="6.25" height="6.25" fill="#6C6D63"/><rect x="3" y="87.5" width="6.25" height="6.25" fill="#756F5C"/><rect x="3" y="93.75" width="6.25" height="6.25" fill="#7D7255"/><rect x="3" y="100" width="6.25" height="6.25" fill="#85754E"/><rect x="3" y="106.25" width="6.25" height="6.25" fill="#8E7847"/><rect x="3" y="112.5" width="6.25" height="6.25" fill="#967A3F"/><rect x="3" y="118.75" width="6.25" height="6.25" fill="#9F7D38"/><rect x="3" y="125" width="6.25" height="6.25" fill="#A78031"/><rect x="3" y="131.25" width="6.25" height="6.25" fill="#AF832A"/><rect x="3" y="137.5" width="6.25" height="6.25" fill="#B88523"/><rect x="3" y="143.75" width="6.25" height="6.25" fill="#C0881C"/>
</g>
<rect class="tb" x="10" y="0" width="143" height="16"/>
<text class="tt" x="15" y="12">Gradient 3</text>
<g class="wh" transform="translate(83,80)">
<use href="#a" fill="#1A5CC0"/><use href="#a" transform="rotate(15)" fill="#205DB9"/><use href="#a" transform="rotate(30)" fill="#265EB2"/><use href="#a" transform="rotate(45)" fill="#2D60AA"/><use href="#a" transform="rotate(60)" fill="#3361A3"/><use href="#a" transform="rotate(75)" fill="#39629C"/><use href="#a" transform="rotate(90)" fill="#3F6395"/><use href="#a" transform="rotate(105)" fill="#45648E"/><use href="#a" transform="rotate(120)" fill="#4B6587"/><use href="#a" transform="rotate(135)" fill="#52677F"/><use href="#a" transform="rotate(150)" fill="#586878"/><use href="#a" transform="rotate(165)" fill="#5E6971"/><use href="#a" transform="rotate(180)" fill="#646A6A"/><use href="#a" transform="rotate(195)" fill="#6C6D63"/><use href="#a" transform="rotate(210)" fill="#756F5C"/><use href="#a" transform="rotate(225)" fill="#7D7255"/><use href="#a" transform="rotate(240)" fill="#85754E"/><use href="#a" transform="rotate(255)" fill="#8E7847"/><use href="#a" transform="rotate(270)" fill="#967A3F"/><use href="#a" transform="rotate(285)" fill="#9F7D38"/><use href="#a" transform="rotate(300)" fill="#A78031"/><use href="#a" transform="rotate(315)" fill="#AF832A"/><use href="#a" transform="rotate(330)" fill="#B88523"/><use href="#a" transform="rotate(345)" fill="#C0881C"/>
</g>
</g>
</svg>
